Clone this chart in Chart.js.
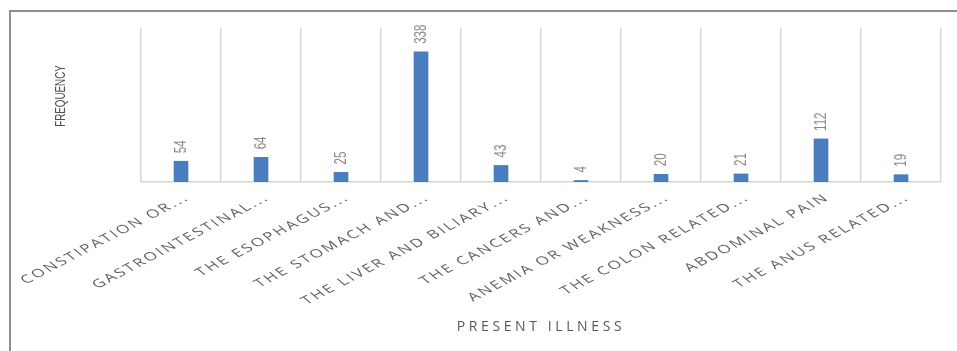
<!DOCTYPE html>
<html><head><meta charset="utf-8">
<script src="https://cdn.jsdelivr.net/npm/chart.js@4.4.1/dist/chart.umd.min.js"></script>
<style>
html,body{margin:0;padding:0;background:#fff;overflow:hidden;width:957px;height:351px;}
#frame{position:absolute;left:9px;top:10px;width:1000px;height:400px;border:2px solid #8f8f8f;box-sizing:border-box;}
#wrap{position:absolute;left:0;top:0;width:957px;height:351px;}
canvas{position:absolute;left:0;top:0;}
</style></head><body>
<div id="frame"></div>
<div id="wrap"><canvas id="c" width="957" height="351"></canvas></div>
<script>
const categories = [
  'CONSTIPATION OR...',
  'GASTROINTESTINAL...',
  'THE ESOPHAGUS...',
  'THE STOMACH AND...',
  'THE LIVER AND BILIARY...',
  'THE CANCERS AND...',
  'ANEMIA OR WEAKNESS...',
  'THE COLON RELATED...',
  'ABDOMINAL PAIN',
  'THE ANUS RELATED...'
];
const frequency = [54, 64, 25, 338, 43, 4, 20, 21, 112, 19];
const yMin = 0;
const yMax = 400;
const xTitle = 'PRESENT ILLNESS';
const yTitle = 'FREQUENCY';

const SHEAR_K = 1.5;
const SHEAR_A = 38 * Math.PI / 180;

const stylePlugin = {
  id: 'stylePlugin',
  afterLayout(chart) {
    const sx = chart.scales.x;
    if (!sx.__patched) {
      sx.__patched = true;
      const origDL = sx.drawLabels;
      sx.drawLabels = function(area) {
        const ctx = this.ctx;
        const r = ctx.rotate;
        ctx.rotate = function(a) { ctx.scale(SHEAR_K, 1); r.call(ctx, -SHEAR_A); };
        ctx.save();
        ctx.letterSpacing = '1.6px';
        try { origDL.call(this, area); } finally { ctx.restore(); delete ctx.rotate; }
      };
      const origDT = sx.drawTitle;
      sx.drawTitle = function() {
        const ctx = this.ctx;
        ctx.save();
        ctx.letterSpacing = '3.6px';
        try { origDT.call(this); } finally { ctx.restore(); }
      };
    }
    const sy = chart.scales.y;
    if (!sy.__patched) {
      sy.__patched = true;
      const origYT = sy.drawTitle;
      sy.drawTitle = function() {
        const ctx = this.ctx;
        const cx = this.left + 8, cy = (this.top + this.bottom) / 2;
        ctx.save();
        ctx.translate(0, -9);
        ctx.translate(cx, cy); ctx.scale(1, 0.7); ctx.translate(-cx, -cy);
        try { origYT.call(this); } finally { ctx.restore(); }
      };
    }
  },
  afterDatasetsDraw(chart) {
    const ctx = chart.ctx;
    const meta = chart.getDatasetMeta(0);
    const vals = chart.data.datasets[0].data;
    meta.data.forEach((bar, i) => {
      ctx.save();
      ctx.translate(bar.x, bar.y - 8);
      ctx.rotate(-Math.PI / 2);
      ctx.scale(0.68, 1);
      ctx.font = '17px "Liberation Sans", Arial, sans-serif';
      ctx.fillStyle = '#8a8a8a';
      ctx.textAlign = 'left';
      ctx.textBaseline = 'middle';
      ctx.fillText(String(vals[i]), 0, 0);
      ctx.restore();
    });
  }
};

new Chart(document.getElementById('c'), {
  type: 'bar',
  data: {
    labels: categories,
    datasets: [{
      data: frequency,
      backgroundColor: '#4a7dbf',
      barThickness: 14
    }]
  },
  options: {
    responsive: false,
    animation: false,
    devicePixelRatio: 1,
    layout: { padding: { top: 28, right: 16, bottom: 16, left: 53 } },
    plugins: { legend: { display: false }, tooltip: { enabled: false } },
    scales: {
      x: {
        grid: { display: true, color: '#d6d6d6', lineWidth: 1.5, drawTicks: false, offset: true },
        border: { display: true, color: '#d6d6d6', width: 1.5 },
        ticks: {
          autoSkip: false, minRotation: 27, maxRotation: 27, padding: 9,
          labelOffset: (c) => (String(categories[c.index]).endsWith('...') ? 25 : 3),
          color: '#606060', font: { family: '"Open Sans", "Liberation Sans", sans-serif', size: 11.5 }
        },
        title: {
          display: true, text: xTitle, color: '#595959',
          font: { family: '"Open Sans", "Liberation Sans", sans-serif', size: 14 },
          padding: { top: 0, bottom: 0 }
        },
        afterFit(s) { s.height = 351 - 16 - 182; }
      },
      y: {
        min: yMin, max: yMax,
        grid: { display: false },
        border: { display: false },
        ticks: { display: false },
        title: {
          display: true, text: yTitle, color: '#505050',
          font: { family: '"Liberation Sans", Arial, sans-serif', size: 14 },
          padding: { top: 0, bottom: 0 }
        },
        afterFit(s) { s.width = 141 - 53; }
      }
    }
  },
  plugins: [stylePlugin]
});
</script>
</body></html>
